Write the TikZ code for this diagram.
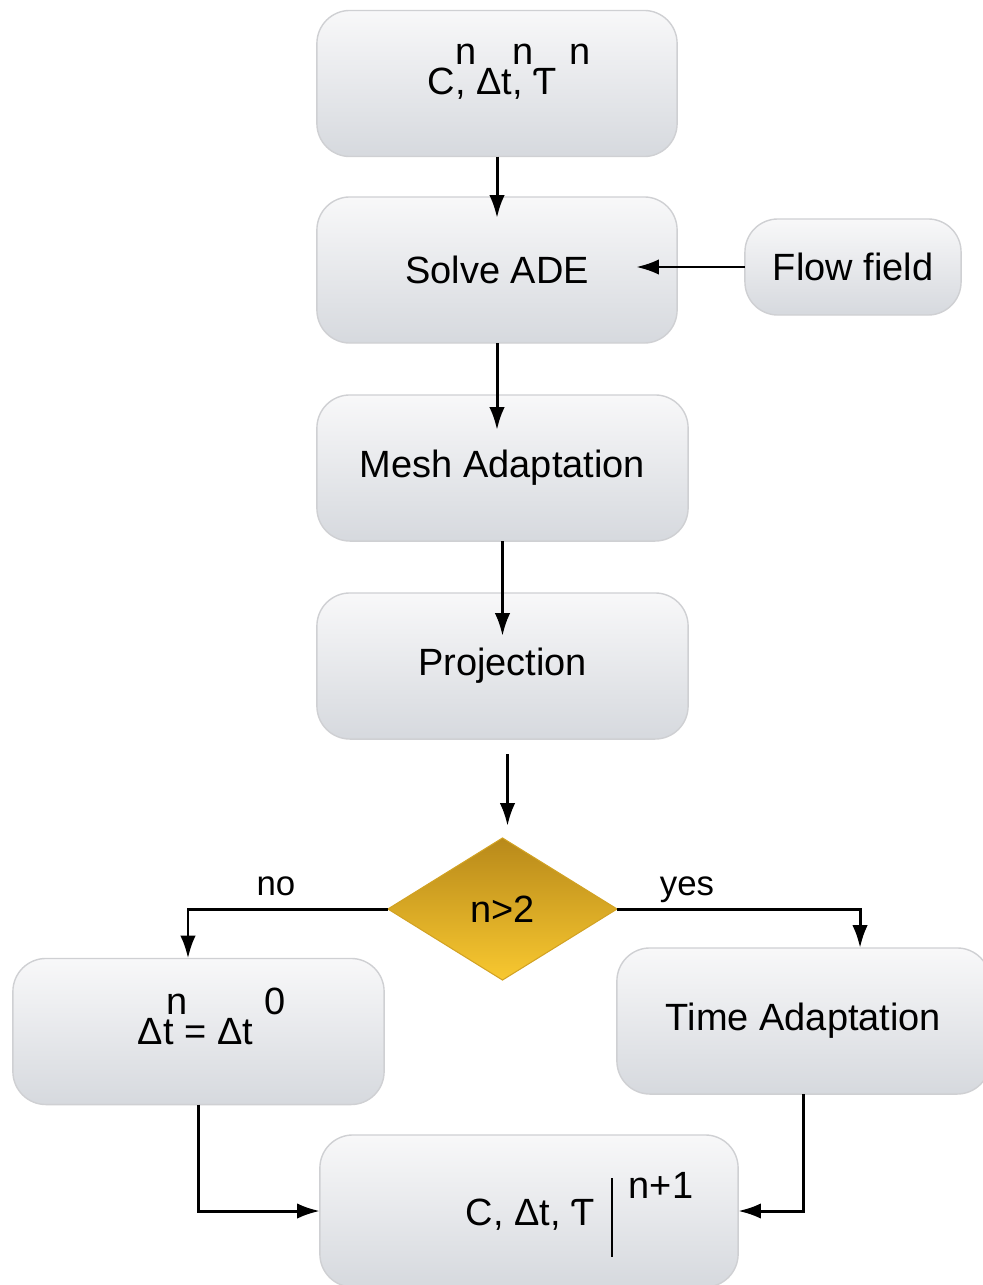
\documentclass[tikz,border=0pt]{standalone}
\usepackage{fontspec}
\setmainfont{Liberation Sans}
\usetikzlibrary{shapes.geometric,arrows.meta}

\definecolor{boxtop}{HTML}{F8F8F9}
\definecolor{boxbot}{HTML}{D6D9DE}
\definecolor{boxline}{HTML}{CFD0D3}
\definecolor{goldtop}{HTML}{B8891A}
\definecolor{goldbot}{HTML}{F8C830}

\newcommand{\upn}[1]{\smash{\raisebox{0.78em}{#1}}}

\begin{document}
\begin{tikzpicture}[x=0.01cm, y=-0.01cm,
  every node/.style={font=\fontsize{10.8}{13}\selectfont, outer sep=0pt},
  card/.style={rounded corners=0.33cm, draw=boxline, line width=0.4pt,
    top color=boxtop, bottom color=boxbot, inner sep=0pt,
    minimum width=#1, minimum height=1.46cm},
  test/.style={diamond, minimum width=2.29cm, minimum height=1.42cm, inner sep=0pt,
    top color=goldtop, bottom color=goldbot, draw=goldtop!60!goldbot, line width=0.3pt},
  arr/.style={-{Latex[length=6.5pt,width=4.4pt]}, line width=0.85pt},
  lbl/.style={above=0.5pt, text depth=0pt, font=\fontsize{9.9}{12}\selectfont}]
\clip (0,0) rectangle (983,1285);

% boxes
\node[card=3.6cm] (init) at (497,83.5) {\hspace*{0.65em}C\rlap{\upn{n}}, Δt\rlap{\upn{n}}, Ƭ\hspace{0.35em}\upn{n}};
\node[card=3.6cm] (solve) at (497,270) {Solve ADE};
\node[card=2.16cm, minimum height=0.96cm] (flow) at (853,267) {Flow field};
\node[card=3.71cm] (mesh) at (502.5,468) {Mesh Adaptation};
\node[card=3.71cm] (proj) at (502.5,666) {Projection};
\node[test] (dec) at (502.5,909) {n>2};
\node[card=3.71cm] (reset) at (198.5,1031.5) {\hspace*{0.7em}Δt\rlap{\hspace{-0.2em}\upn{n}} = Δt\hspace{0.3em}\upn{0}};
\node[card=3.73cm] (tadapt) at (803.5,1021) {Time Adaptation};
\node[card=4.18cm, minimum height=1.52cm] (final) at (529,1211) {};

% result after the step
\node[anchor=base] (resval) at (530,1225) {C, Δt, Ƭ};
\draw[line width=0.5pt] (612,1178) -- (612,1257);
\node[anchor=base] (resexp) at (661,1198) {n+1};

% arrows
\draw[arr, shorten >=-0.21cm] (init) -- (solve);
\draw[arr, shorten >=-0.35cm] (solve.south) -- (solve.south |- mesh.north);
\draw[arr, shorten >=-0.43cm] (mesh) -- (proj);
\draw[arr, shorten >=-0.41cm] (flow.west) -- (flow.west -| solve.east);
\draw[arr, shorten <=0.15cm, shorten >=0.12cm] ([xshift=0.05cm]proj.south) -- ([xshift=0.05cm]dec.north);
\draw[arr] (dec.west) -| node[lbl, pos=0.28] {no} ([xshift=-0.105cm]reset.north);
\draw[arr] (dec.east) -| node[lbl, pos=0.144] {yes} ([xshift=0.565cm]tadapt.north);
\draw[arr] (reset.south) |- (final.west);
\draw[arr] (tadapt.south) |- (final.east);
\end{tikzpicture}
\end{document}
